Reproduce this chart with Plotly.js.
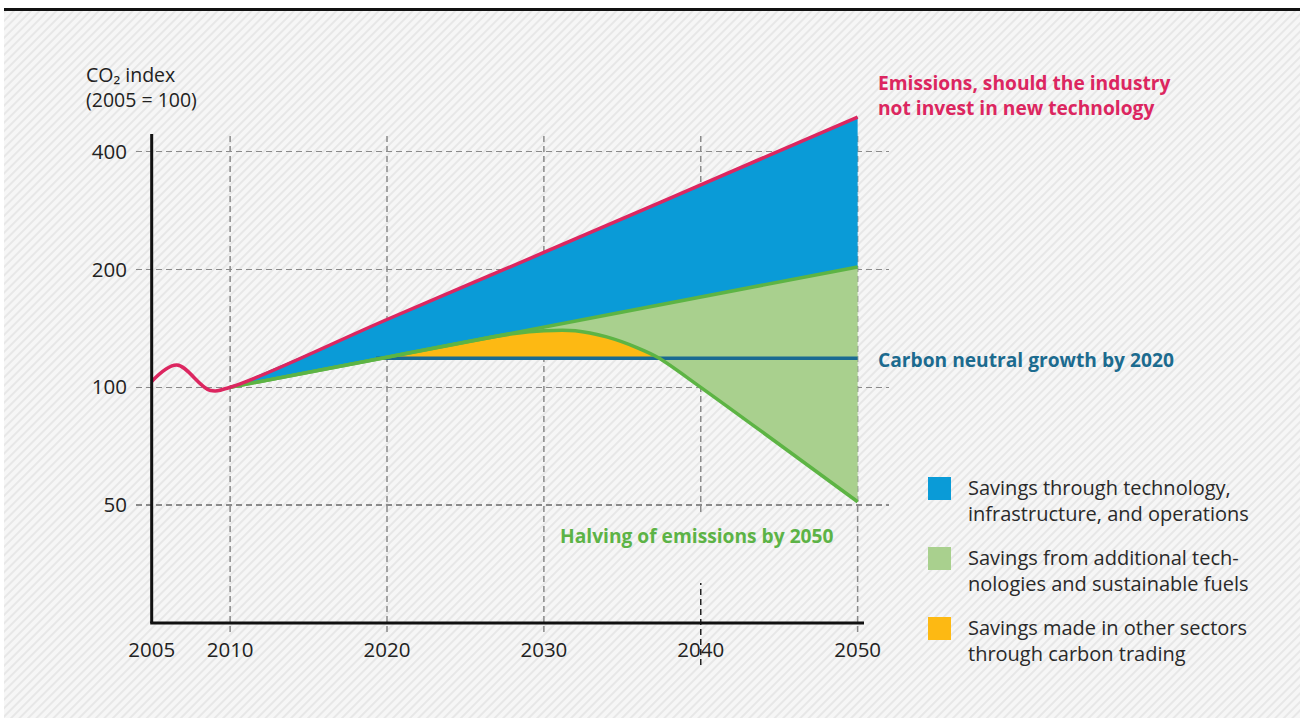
<!DOCTYPE html>
<html>
<head>
<meta charset="utf-8">
<script src="https://cdn.plot.ly/plotly-3.0.1.min.js"></script>
<style>html,body{margin:0;padding:0;background:#fff;}#chart{width:1300px;height:718px;}</style>
</head>
<body>
<div id="chart"></div>
<script>
// ---- data ----
const redYears    = [2005, 2006.6, 2008.7, 2010, 2020, 2030, 2040, 2050];
const redValues   = [103.5, 114, 98.3, 100, 149, 221, 329, 490];
const mainYears   = [2010, 2020, 2030, 2040, 2050];
const upperGreen  = [100, 119.4, 142.5, 170.1, 203];
const lowerYears  = [2010, 2020, 2025, 2028, 2030, 2032, 2034, 2036, 2037.3, 2040, 2050];
const lowerGreen  = [100, 119.4, 130.5, 137, 139.5, 139.5, 134.5, 126, 119, 100, 51];
const orangeYears = [2019.3, 2020, 2025, 2028, 2030, 2032, 2034, 2036, 2037.3];
const orangeTop   = [118.6, 119.4, 130.5, 137, 139.5, 139.5, 134.5, 126, 119];
const neutralYears = [2019.3, 2050];
const neutralLevel = 118.6;
const neutralOrangeEnd = 2037.3;
const xTickYears = [2005, 2010, 2020, 2030, 2040, 2050];
const yTickVals  = [50, 100, 200, 400];
const yTickText  = ['50', '100', '200', '400'];
const legendLabels = [
  'Savings through technology,<br>infrastructure, and operations',
  'Savings from additional tech-<br>nologies and sustainable fuels',
  'Savings made in other sectors<br>through carbon trading'
];

// ---- styling ----
const FONT = '"Open Sans", "Noto Sans", sans-serif';
const C_BLUE = '#0a9bd7', C_LGREEN = '#a9d08e', C_ORANGE = '#fdb913';
const C_RED = '#dc2660', C_GREEN = '#5db444', C_TEAL = '#1a6a92';
const legendColors = [C_BLUE, C_LGREEN, C_ORANGE];

const L = 136, R = 411, T = 107, B = 95, WID = 1300, HEI = 718;
const W = WID - L - R, H = HEI - T - B;
const XR = [2004, 2052], YR = [25, 520];
const PX = px => (px - L) / W;
const PY = py => 1 - (py - T) / H;
const xP = yr => (yr - XR[0]) / (XR[1] - XR[0]);

const base = {mode: 'lines', hoverinfo: 'skip', showlegend: false};
const traces = [
  Object.assign({}, base, {x: mainYears, y: upperGreen, line: {width: 0}}),
  Object.assign({}, base, {x: redYears.slice(3), y: redValues.slice(3), line: {width: 0}, fill: 'tonexty', fillcolor: C_BLUE}),
  Object.assign({}, base, {x: lowerYears, y: lowerGreen, line: {width: 0, shape: 'spline', smoothing: 0.9}}),
  Object.assign({}, base, {x: mainYears, y: upperGreen, line: {width: 0}, fill: 'tonexty', fillcolor: C_LGREEN}),
  Object.assign({}, base, {x: [neutralYears[0], neutralOrangeEnd], y: [neutralLevel, neutralLevel], line: {width: 0}}),
  Object.assign({}, base, {x: orangeYears, y: orangeTop, line: {width: 0, shape: 'spline', smoothing: 0.9}, fill: 'tonexty', fillcolor: C_ORANGE}),
  Object.assign({}, base, {x: neutralYears, y: [neutralLevel, neutralLevel], line: {width: 3.5, color: C_TEAL}}),
  Object.assign({}, base, {x: lowerYears, y: lowerGreen, line: {width: 3.5, color: C_GREEN, shape: 'spline', smoothing: 0.9}}),
  Object.assign({}, base, {x: mainYears, y: upperGreen, line: {width: 3.5, color: C_GREEN}}),
  Object.assign({}, base, {x: redYears, y: redValues, line: {width: 3.5, color: C_RED, shape: 'spline', smoothing: 1}})
];

const stripeSvg = `<svg xmlns='http://www.w3.org/2000/svg' width='1296' height='707'><defs><pattern id='p' width='6' height='6' patternUnits='userSpaceOnUse' patternTransform='rotate(45)'><rect width='6' height='6' fill='#f6f6f6'/><line x1='1' y1='0' x2='1' y2='6' stroke='#e4e4e4' stroke-width='1.6'/></pattern></defs><rect width='1296' height='707' fill='url(#p)'/></svg>`;

const grid = {type: 'line', xref: 'paper', yref: 'paper', layer: 'below', line: {color: '#8a8a8a', width: 1.5, dash: '6px,4px'}};
const shapes = [
  {type: 'line', xref: 'paper', yref: 'paper', x0: PX(4), x1: PX(1300), y0: PY(9.5), y1: PY(9.5), line: {color: '#111', width: 3}}
];
[2010, 2020, 2030, 2050].forEach(yr => shapes.push(Object.assign({}, grid, {x0: xP(yr), x1: xP(yr), y0: PY(632), y1: PY(135)})));
shapes.push(Object.assign({}, grid, {x0: xP(2040), x1: xP(2040), y0: PY(512), y1: PY(135)}));
shapes.push(Object.assign({}, grid, {x0: xP(2040), x1: xP(2040), y0: PY(665), y1: PY(583), line: {color: '#222', width: 1.5, dash: '6px,4px'}}));
shapes.push({type: 'line', xref: 'paper', yref: 'paper', x0: xP(2005), x1: xP(2005), y0: 0, y1: PY(134), line: {color: '#111', width: 3}});
shapes.push({type: 'line', xref: 'paper', yref: 'paper', x0: xP(2005) - 1.5 / W, x1: PX(864), y0: 0, y1: 0, line: {color: '#111', width: 3}});

const legendTops = [477, 547, 617];
legendColors.forEach((c, i) => shapes.push({type: 'rect', xref: 'paper', yref: 'paper', x0: PX(928), x1: PX(951), y0: PY(legendTops[i]), y1: PY(legendTops[i] + 23), fillcolor: c, line: {width: 0}}));

const ann = (text, xpx, ypx, color, size, bold) => ({
  text: bold ? '<b>' + text + '</b>' : text, xref: 'paper', yref: 'paper', x: PX(xpx), y: PY(ypx),
  xanchor: 'left', yanchor: 'middle', align: 'left', showarrow: false,
  font: {family: FONT, size: size, color: color}
});
const annotations = [
  ann('CO₂ index<br>(2005 = 100)', 84, 87, '#222', 19.5, false),
  ann('Emissions, should the industry<br>not invest in new technology', 876, 95, C_RED, 19.2, true),
  ann('Carbon neutral growth by 2020', 876, 359, '#1c6b8f', 19.2, true),
  ann('Halving of emissions by 2050', 558, 535, '#5cb346', 19.2, true)
];
legendLabels.forEach((t, i) => annotations.push(ann(t, 966, legendTops[i] + 23, '#2a2a2a', 20, false)));

const layout = {
  width: WID, height: HEI,
  margin: {l: L, r: R, t: T, b: B, pad: 0},
  paper_bgcolor: '#ffffff', plot_bgcolor: 'rgba(0,0,0,0)',
  showlegend: false,
  font: {family: FONT, size: 19, color: '#222'},
  xaxis: {range: XR, tickvals: xTickYears, ticktext: xTickYears.map(String), showgrid: false, zeroline: false, showline: false, ticks: '', ticklabelstandoff: 12, tickfont: {size: 20.5, color: '#222'}, fixedrange: true},
  yaxis: {type: 'log', range: [Math.log10(YR[0]), Math.log10(YR[1])], tickvals: yTickVals, ticktext: yTickText, showgrid: true, gridcolor: '#8a8a8a', gridwidth: 1.5, griddash: '6px,4px', zeroline: false, showline: false, ticks: '', ticklabelstandoff: 8, tickfont: {size: 20.5, color: '#222'}, fixedrange: true},
  shapes: shapes,
  annotations: annotations,
  images: [{source: 'data:image/svg+xml;charset=utf-8,' + encodeURIComponent(stripeSvg), xref: 'paper', yref: 'paper', x: PX(4), y: PY(11), sizex: 1296 / W, sizey: 707 / H, sizing: 'stretch', xanchor: 'left', yanchor: 'top', layer: 'below'}]
};

Plotly.newPlot('chart', traces, layout, {displayModeBar: false, staticPlot: true});
</script>
</body>
</html>
